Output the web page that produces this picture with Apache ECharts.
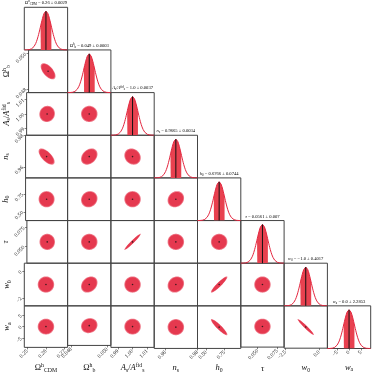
<!DOCTYPE html>
<html>
<head>
<meta charset="utf-8">
<script src="https://cdn.jsdelivr.net/npm/echarts@6/dist/echarts.min.js"></script>
<style>
html, body { margin: 0; padding: 0; background: #fff; }
#fig { width: 374px; height: 374px; }
</style>
</head>
<body>
<div id="fig"></div>
<script>
// parameters: Ωc, Ωb, As, ns, h0, tau, w0, wa
var means = [0.26, 0.049, 1.0, 0.9665, 0.6766, 0.0561, -1.0, 0.0];
var sigmas = [0.0029, 0.0003, 0.0037, 0.0034, 0.0744, 0.007, 0.4017, 2.2853];
var titleVals = ['0.26 ± 0.0029', '0.049 ± 0.0003', '1.0 ± 0.0037', '0.9665 ± 0.0034',
                 '0.6766 ± 0.0744', '0.0561 ± 0.007', '−1.0 ± 0.4017', '0.0 ± 2.2853'];
var labels = [
    '{r|Ω}{sup|h}{sub|CDM}',
    '{r|Ω}{sup|h}{sub|b}',
    '{i|A}{sub|s}{r|/}{i|A}{sup|fid}{sub|s}',
    '{i|n}{sub|s}',
    '{i|h}{sub|0}',
    '{i|τ}',
    '{i|w}{sub|0}',
    '{i|w}{sub|a}'
];
// tick positions
var xTicks = [[0.25, 0.26, 0.27], [0.048, 0.050], [0.99, 1.00, 1.01], [0.96, 0.98],
              [0.50, 0.75], [0.050, 0.075], [-2.5, 0.0], [-5, 0, 5]];
var yTicks = [[0.25, 0.26, 0.27], [0.048, 0.050], [0.99, 1.00, 1.01], [0.96, 0.98],
              [0.50, 0.75], [0.050, 0.075], [-2, 0], [-5, 0, 5]];
var xDec = [2, 3, 2, 2, 2, 3, 1, 0];
var yDec = [2, 3, 2, 2, 2, 3, 0, 0];
// correlation coefficients, row i vs column j (j < i)
var corr = [
    [],
    [-0.6],
    [0.05, 0.0],
    [-0.65, 0.3, -0.15],
    [0.0, 0.1, 0.0, 0.15],
    [0.0, 0.0, 0.97, 0.0, 0.0],
    [0.0, 0.25, 0.0, 0.15, 0.93, 0.0],
    [0.0, 0.1, 0.0, 0.0, -0.92, 0.0, -0.97]
];

var N = 8;
var x0 = 24.3, y0 = 7.3, cw = 43.3, rh = 42.65;
var serif = 'Liberation Serif';
var red = '#e3263f', fillRed = '#e8414f', ellOuter = '#ef7888', ellInner = '#e5394f';

function rich(sz) {
    return {
        r: { fontFamily: serif, fontSize: sz, color: '#111' },
        i: { fontFamily: serif, fontStyle: 'italic', fontSize: sz, color: '#111' },
        sub: { fontFamily: serif, fontSize: sz * 0.68, color: '#111', padding: [sz * 0.5, 0, 0, 0] },
        sup: { fontFamily: serif, fontSize: sz * 0.68, color: '#111', padding: [0, 0, sz * 0.6, 0] }
    };
}
function fmt(v, d) {
    return (v < 0 ? '−' : '') + Math.abs(v).toFixed(d);
}
function lo(k) { return means[k] - 4 * sigmas[k]; }
function hi(k) { return means[k] + 4 * sigmas[k]; }

var grids = [], xAxes = [], yAxes = [], series = [], graphics = [];

for (var i = 0; i < N; i++) {
    for (var j = 0; j <= i; j++) {
        (function (i, j) {
            var gi = grids.length;
            var bottom = (i === N - 1);
            grids.push({
                left: x0 + j * cw, top: y0 + i * rh, width: cw, height: rh,
                show: true, borderColor: '#444', borderWidth: 1, backgroundColor: 'transparent'
            });
            xAxes.push({
                gridIndex: gi, type: 'value', min: lo(j), max: hi(j), position: 'bottom',
                axisLine: { show: false, onZero: false }, splitLine: { show: false },
                axisTick: { show: bottom, customValues: xTicks[j], length: 2, lineStyle: { color: '#333', width: 0.6 } },
                axisLabel: {
                    show: bottom, customValues: xTicks[j], rotate: 45, margin: 3,
                    fontFamily: serif, fontSize: 5.5, color: '#222',
                    formatter: function (v) { return fmt(v, xDec[j]); }
                },
                name: bottom ? labels[j] : '', nameLocation: 'middle', nameGap: 14,
                nameTextStyle: { rich: rich(8.5) }
            });
            if (i === j) {
                yAxes.push({
                    gridIndex: gi, type: 'value', min: 0, max: 1.1, position: 'left',
                    axisLine: { show: false, onZero: false }, splitLine: { show: false },
                    axisTick: { show: false }, axisLabel: { show: false }
                });
                var curve = [], band = [];
                for (var k = -4; k <= 4.0001; k += 0.05) {
                    curve.push([means[j] + k * sigmas[j], Math.exp(-k * k / 2)]);
                }
                for (var k2 = -1; k2 <= 1.0001; k2 += 0.05) {
                    band.push([means[j] + k2 * sigmas[j], Math.exp(-k2 * k2 / 2)]);
                }
                series.push({
                    type: 'line', xAxisIndex: gi, yAxisIndex: gi, data: band, showSymbol: false,
                    lineStyle: { width: 0 }, areaStyle: { color: fillRed, opacity: 1 }, silent: true
                });
                series.push({
                    type: 'line', xAxisIndex: gi, yAxisIndex: gi, data: curve, showSymbol: false,
                    lineStyle: { color: red, width: 1 }, silent: true
                });
                series.push({
                    type: 'line', xAxisIndex: gi, yAxisIndex: gi, showSymbol: false,
                    data: [[means[j], 0], [means[j], 1]],
                    lineStyle: { color: '#111', width: 1 }, silent: true
                });
                graphics.push({
                    type: 'text', x: x0 + (j + 0.5) * cw, y: y0 + i * rh - 1.5,
                    style: {
                        text: labels[j] + '{r| = ' + titleVals[j] + '}',
                        rich: rich(4.6), align: 'center', verticalAlign: 'bottom'
                    }
                });
            } else {
                var left = (j === 0);
                yAxes.push({
                    gridIndex: gi, type: 'value', min: lo(i), max: hi(i), position: 'left',
                    axisLine: { show: false, onZero: false }, splitLine: { show: false },
                    axisTick: { show: left, customValues: yTicks[i], length: 2, lineStyle: { color: '#333', width: 0.6 } },
                    axisLabel: {
                        show: left, customValues: yTicks[i], rotate: 45, margin: 3,
                        fontFamily: serif, fontSize: 5.5, color: '#222',
                        formatter: function (v) { return fmt(v, yDec[i]); }
                    },
                    name: left ? labels[i] : '', nameLocation: 'middle', nameGap: 12,
                    nameTextStyle: { rich: rich(8.5) }
                });
                var rho = corr[i][j];
                series.push({
                    type: 'custom', xAxisIndex: gi, yAxisIndex: gi, silent: true,
                    data: [[means[j], means[i]]],
                    renderItem: function (params, api) {
                        function ell(kk) {
                            var pts = [];
                            for (var t = 0; t < 64; t++) {
                                var a = t / 64 * Math.PI * 2;
                                var dx = kk * sigmas[j] * Math.cos(a);
                                var dy = kk * sigmas[i] * (rho * Math.cos(a) + Math.sqrt(1 - rho * rho) * Math.sin(a));
                                pts.push(api.coord([means[j] + dx, means[i] + dy]));
                            }
                            return pts;
                        }
                        return {
                            type: 'group', children: [
                                { type: 'polygon', shape: { points: ell(1.52) }, style: { fill: ellOuter } },
                                { type: 'polygon', shape: { points: ell(1.36) }, style: { fill: ellInner } }
                            ]
                        };
                    }
                });
                series.push({
                    type: 'scatter', xAxisIndex: gi, yAxisIndex: gi, silent: true,
                    data: [[means[j], means[i]]], symbolSize: 1.6,
                    itemStyle: { color: '#111' }
                });
            }
        })(i, j);
    }
}

var chart = echarts.init(document.getElementById('fig'), null, { renderer: 'canvas' });
chart.setOption({
    backgroundColor: '#fff',
    animation: false,
    grid: grids,
    xAxis: xAxes,
    yAxis: yAxes,
    series: series,
    graphic: graphics
});
</script>
</body>
</html>
